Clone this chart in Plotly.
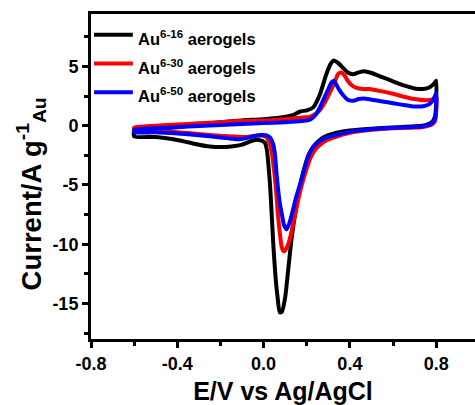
import plotly.graph_objects as go

# Cyclic voltammograms of Au aerogels, each loop as (E, I) pairs in scan order:
# anodic sweep -0.6 V -> 0.8 V, then cathodic sweep back to -0.6 V.
names = ["Au<sup>6-16</sup> aerogels", "Au<sup>6-30</sup> aerogels", "Au<sup>6-50</sup> aerogels"]
colors = ["#000000", "#ff0000", "#0000ff"]

e_616 = [-0.60, -0.50, -0.40, -0.30, -0.20, -0.10, 0.00, 0.08, 0.14, 0.17, 0.20, 0.23, 0.26, 0.29,
         0.31, 0.325, 0.345, 0.37, 0.39, 0.415, 0.44, 0.465, 0.50, 0.55, 0.60, 0.65, 0.70, 0.74,
         0.77, 0.79, 0.80,
         0.80, 0.795, 0.78, 0.75, 0.70, 0.60, 0.50, 0.40, 0.35, 0.30, 0.26, 0.23, 0.21, 0.19,
         0.17, 0.15, 0.13, 0.115, 0.10, 0.085, 0.075, 0.065, 0.055, 0.045, 0.038, 0.03, 0.022,
         0.015, 0.005, -0.02, -0.05, -0.10, -0.15, -0.20, -0.25, -0.30, -0.35, -0.40, -0.45,
         -0.50, -0.60, -0.60]
i_616 = [-0.50, -0.30, -0.10, 0.10, 0.30, 0.45, 0.55, 0.70, 0.92, 1.20, 1.30, 1.55, 2.60, 4.30,
         5.20, 5.50, 5.30, 4.85, 4.50, 4.35, 4.50, 4.60, 4.45, 4.10, 3.75, 3.40, 3.15, 3.10,
         3.25, 3.55, 3.80,
         2.00, 0.80, 0.30, 0.05, -0.05, -0.15, -0.25, -0.40, -0.55, -0.80, -1.20, -1.80, -2.40,
         -3.50, -5.00, -7.00, -9.50, -12.0, -14.5, -15.7, -15.75, -14.5, -12.7, -10.0, -7.6,
         -5.0, -3.2, -2.0, -1.4, -1.2, -1.25, -1.60, -1.75, -1.80, -1.75, -1.60, -1.40, -1.20,
         -1.05, -0.95, -0.90, -0.50]

e_630 = [-0.60, -0.50, -0.40, -0.30, -0.20, -0.10, 0.00, 0.10, 0.18, 0.215, 0.24, 0.26, 0.285,
         0.31, 0.33, 0.345, 0.36, 0.375, 0.39, 0.41, 0.43, 0.46, 0.49, 0.55, 0.60, 0.65, 0.70,
         0.75, 0.78, 0.80,
         0.80, 0.795, 0.78, 0.74, 0.70, 0.60, 0.50, 0.40, 0.35, 0.30, 0.27, 0.245, 0.22, 0.20,
         0.177, 0.16, 0.145, 0.125, 0.11, 0.095, 0.085, 0.075, 0.065, 0.058, 0.05, 0.04, 0.03,
         0.015, 0.00, -0.03, -0.06, -0.10, -0.15, -0.20, -0.30, -0.40, -0.50, -0.60, -0.60]
i_630 = [-0.15, 0.00, 0.10, 0.20, 0.30, 0.40, 0.45, 0.55, 0.70, 0.75, 1.00, 1.30, 2.00,
         2.90, 3.70, 4.35, 4.50, 4.25, 3.80, 3.40, 3.20, 3.10, 3.10, 2.90, 2.70, 2.45, 2.25,
         2.15, 2.20, 2.50,
         1.20, 0.40, 0.10, -0.10, -0.15, -0.22, -0.35, -0.60, -0.85, -1.15, -1.50, -1.90, -2.60,
         -3.60, -5.00, -6.30, -7.60, -9.30, -10.2, -10.6, -10.3, -9.00, -7.20, -5.50, -4.00,
         -2.50, -1.60, -1.00, -0.85, -0.84, -0.90, -0.95, -0.90, -0.85, -0.70, -0.55, -0.45,
         -0.40, -0.15]

e_650 = [-0.60, -0.50, -0.40, -0.30, -0.20, -0.10, 0.00, 0.10, 0.18, 0.215, 0.245, 0.265,
         0.285, 0.30, 0.315, 0.325, 0.335, 0.35, 0.37, 0.39, 0.415, 0.44, 0.465, 0.50, 0.55,
         0.60, 0.65, 0.70, 0.74, 0.77, 0.79, 0.80,
         0.80, 0.795, 0.78, 0.74, 0.70, 0.60, 0.50, 0.40, 0.35, 0.30, 0.26, 0.23, 0.207, 0.19,
         0.168, 0.15, 0.135, 0.12, 0.107, 0.095, 0.085, 0.075, 0.068, 0.06, 0.053, 0.045,
         0.03, 0.01, -0.01, -0.04, -0.08, -0.11, -0.15, -0.20, -0.30, -0.40, -0.50, -0.60,
         -0.60]
i_650 = [-0.35, -0.22, -0.12, -0.02, 0.06, 0.14, 0.22, 0.30, 0.40, 0.50, 1.00, 1.70,
         2.50, 3.10, 3.65, 3.80, 3.55, 3.05, 2.55, 2.20, 2.10, 2.25, 2.30, 2.20, 2.05,
         1.90, 1.75, 1.62, 1.65, 1.85, 2.30, 2.75,
         1.50, 0.60, 0.20, -0.05, -0.10, -0.18, -0.30, -0.50, -0.72, -0.95, -1.30, -1.80,
         -2.60, -3.60, -5.00, -6.10, -7.20, -8.20, -8.75, -8.40, -7.50, -6.50, -5.50, -4.00,
         -2.50, -1.60, -1.00, -0.80, -0.78, -0.85, -1.05, -1.15, -1.10, -1.00, -0.80, -0.65,
         -0.55, -0.55, -0.35]

x_ticks = [-0.8, -0.4, 0.0, 0.4, 0.8]
y_ticks = [-15, -10, -5, 0, 5]

font_family = "Liberation Sans, Arial, sans-serif"
bold = dict(family=font_family, color="black", weight="bold")

fig = go.Figure()
for name, color, e, i in zip(names, colors, [e_616, e_630, e_650], [i_616, i_630, i_650]):
    fig.add_trace(go.Scatter(
        x=e, y=i, mode="lines", name=name, showlegend=False,
        line=dict(color=color, width=4, shape="spline", smoothing=0.6),
    ))

# Legend drawn in the upper-left corner of the frame: a line sample and a label per loop.
legend_top = 0.936      # paper y of the first entry
legend_step = 0.0885    # paper spacing between entries
for k, (name, color) in enumerate(zip(names, colors)):
    yk = legend_top - k * legend_step
    fig.add_shape(type="line", xref="paper", yref="paper",
                  x0=0.008, x1=0.109, y0=yk, y1=yk,
                  line=dict(color=color, width=4))
    fig.add_annotation(xref="paper", yref="paper", x=0.117, y=yk,
                       xanchor="left", yanchor="middle", yshift=-3,
                       text=name, showarrow=False,
                       font=dict(bold, size=16.5))

# Vertical axis title
fig.add_annotation(xref="paper", yref="paper", x=-0.157, y=0.447,
                   xanchor="center", yanchor="middle", textangle=-90,
                   text="Current/A g<sup>-1</sup><sub>Au</sub>", showarrow=False,
                   font=dict(bold, size=27.5))

fig.update_layout(
    width=475, height=405,
    margin=dict(l=91, r=0, t=14, b=66),
    paper_bgcolor="white", plot_bgcolor="white",
    font=dict(family=font_family, color="black"),
)

fig.update_xaxes(
    range=[-0.8, 0.98],
    tickvals=x_ticks, ticktext=[f"{v:.1f}" for v in x_ticks],
    ticks="outside", ticklen=6, tickwidth=2.5, tickcolor="black",
    minor=dict(dtick=0.2, tick0=-0.8, ticks="outside", ticklen=4, tickwidth=2.5, tickcolor="black"),
    showline=True, linewidth=3, linecolor="black", mirror=True,
    showgrid=False, zeroline=False,
    tickfont=dict(bold, size=18),
    title=dict(text="E/V vs Ag/AgCl", font=dict(bold, size=25), standoff=13),
)
fig.update_yaxes(
    range=[-18, 9.43],
    tickvals=y_ticks, ticktext=[str(v) for v in y_ticks],
    ticks="outside", ticklen=6, tickwidth=2.5, tickcolor="black",
    minor=dict(dtick=2.5, tick0=0, ticks="outside", ticklen=4, tickwidth=2.5, tickcolor="black"),
    showline=True, linewidth=3, linecolor="black", mirror=False,
    showgrid=False, zeroline=False,
    tickfont=dict(bold, size=18),
)

fig.write_html("out.html")
